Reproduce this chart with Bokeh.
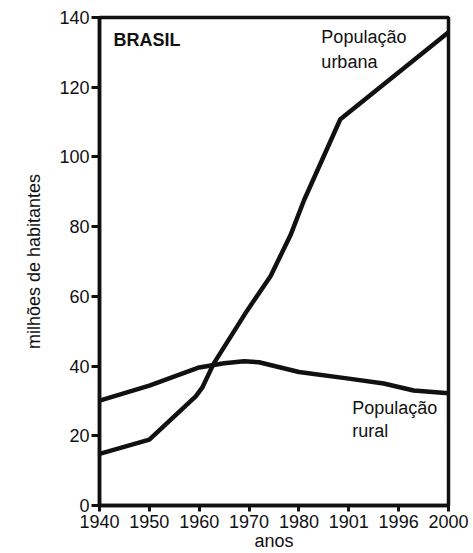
from bokeh.plotting import figure
from bokeh.models import Range1d, FixedTicker, Label
from bokeh.embed import file_html
from bokeh.resources import INLINE

# ---- data ----
year_labels = ["1940", "1950", "1960", "1970", "1980", "1901", "1996", "2000"]
urban_pos = [0, 1, 1.93, 2.06, 2.29, 2.96, 3.43, 3.83, 4.1, 4.83, 7]
urban_val = [14.8, 18.9, 31.3, 33.8, 40.7, 55.9, 65.8, 77.5, 87.5, 110.8, 135.8]
rural_pos = [0, 1, 2, 2.5, 2.9, 3.2, 4, 5, 5.7, 6.3, 7]
rural_val = [30.1, 34.4, 39.6, 40.8, 41.4, 41.1, 38.3, 36.4, 35.0, 33.0, 32.2]
y_ticks = [0, 20, 40, 60, 80, 100, 120, 140]

FONT = "Liberation Sans"
INK = "#111111"

p = figure(width=473, height=553, output_backend="svg", toolbar_location=None,
           x_range=Range1d(0, 7), y_range=Range1d(0, 140),
           min_border_left=99, min_border_right=25, min_border_top=17, min_border_bottom=48)

p.background_fill_color = "white"
p.border_fill_color = "white"
p.outline_line_color = INK
p.outline_line_width = 3.5
p.xgrid.visible = False
p.ygrid.visible = False

p.line(urban_pos, urban_val, line_color=INK, line_width=4.5, line_join="round", line_cap="round")
p.line(rural_pos, rural_val, line_color=INK, line_width=4.5, line_join="round", line_cap="round")

for ax in (p.xaxis[0], p.yaxis[0]):
    ax.axis_line_color = INK
    ax.axis_line_width = 3.5
    ax.major_tick_line_color = INK
    ax.major_tick_line_width = 3
    ax.major_tick_in = 0
    ax.minor_tick_line_color = None
    ax.major_label_text_font = FONT
    ax.major_label_text_font_size = "18px"
    ax.major_label_text_color = INK
    ax.axis_label_text_font = FONT
    ax.axis_label_text_font_size = "18px"
    ax.axis_label_text_font_style = "normal"
    ax.axis_label_text_color = INK

p.xaxis.ticker = FixedTicker(ticks=list(range(len(year_labels))))
p.xaxis.major_label_overrides = {i: lab for i, lab in enumerate(year_labels)}
p.xaxis.major_tick_out = 6
p.xaxis.major_label_standoff = 3
p.xaxis.axis_label = "anos"
p.xaxis.axis_label_standoff = 0

p.yaxis.ticker = FixedTicker(ticks=y_ticks)
p.yaxis.major_tick_out = 8
p.yaxis.major_label_standoff = 2
p.yaxis.axis_label = "milhões de habitantes"
p.yaxis.axis_label_standoff = 12

p.add_layout(Label(x=0.28, y=130.7, text="BRASIL", text_font=FONT, text_font_size="18px",
                   text_font_style="bold", text_color=INK))
p.add_layout(Label(x=4.45, y=131.4, text="População", text_font=FONT, text_font_size="18px",
                   text_color=INK))
p.add_layout(Label(x=4.45, y=124.3, text="urbana", text_font=FONT, text_font_size="18px",
                   text_color=INK))
p.add_layout(Label(x=5.07, y=25.2, text="População", text_font=FONT, text_font_size="18px",
                   text_color=INK))
p.add_layout(Label(x=5.07, y=18.4, text="rural", text_font=FONT, text_font_size="18px",
                   text_color=INK))

open("out.html", "w").write(file_html(p, INLINE))
